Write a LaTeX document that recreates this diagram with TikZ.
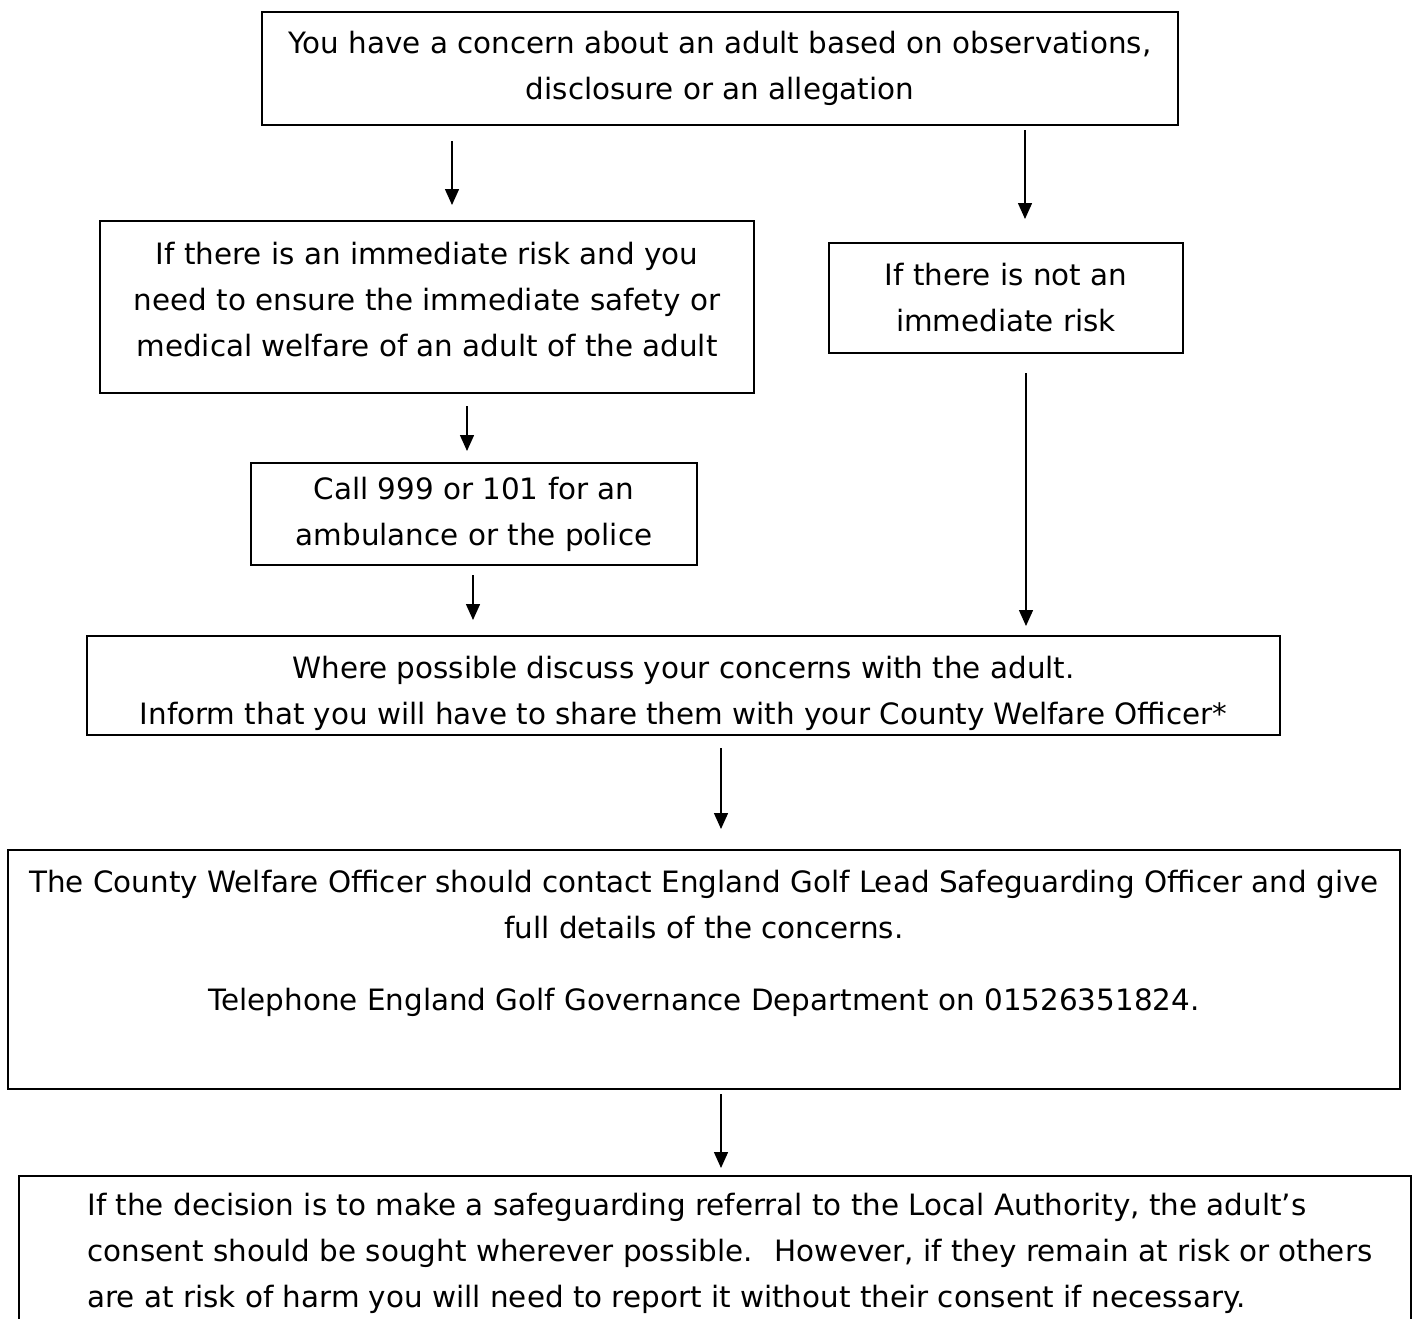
\documentclass[tikz,border=0pt]{standalone}
\usepackage{fontspec}
\setmainfont{DejaVu Sans}
\usetikzlibrary{arrows.meta,positioning}

\begin{document}
\begin{tikzpicture}[x=0.5pt, y=-0.5pt, >={Triangle[length=8pt,width=7pt]},
    every node/.style={font=\fontsize{14.7pt}{23pt}\selectfont},
    box/.style={draw, line width=1pt, inner sep=0pt, align=center},
    arr/.style={->, line width=0.75pt}]
    \useasboundingbox (0,0) rectangle (1413,1318);

    \node [box, minimum width=458pt, minimum height=56.5pt] (concern) at (720,68.5)
        {You have a concern about an adult based on observations,\\ disclosure or an allegation};
    \node [box, minimum width=327pt, minimum height=86pt] (urgent) at (427,307)
        {If there is an immediate risk and you\\ need to ensure the immediate safety or\\ medical welfare of an adult of the adult\rule[-8pt]{0pt}{0pt}};
    \node [box, minimum width=177pt, minimum height=55pt] (noturgent) at (1006,298)
        {If there is not an\\ immediate risk};
    \node [box, minimum width=223pt, minimum height=51pt] (call) at (474,514)
        {Call 999 or 101 for an\\ ambulance or the police};
    \node [box, minimum width=596.5pt, minimum height=49.5pt] (discuss) at (683.5,685.5)
        {\rule{0pt}{19pt}Where possible discuss your concerns with the adult.\\ Inform that you will have to share them with your County Welfare Officer*};
    \node [box, minimum width=696pt, minimum height=119.5pt] (cwo) at (704,969.5)
        {The County Welfare Officer should contact England Golf Lead Safeguarding Officer and give\\ full details of the concerns.\\[13pt] Telephone England Golf Governance Department on 01526351824.\\[6.5pt]\mbox{}};
    % last box runs off the bottom of the page
    \node [box, anchor=north west, minimum width=696pt, minimum height=90pt] (referral) at (18,1175) {};
    \node [anchor=north west, inner sep=0pt, align=left] (referraltext) at (87,1193)
        {If the decision is to make a safeguarding referral to the Local Authority, the adult’s\\ consent should be sought wherever possible.~ However, if they remain at risk or others\\ are at risk of harm you will need to report it without their consent if necessary.};

    \draw [arr, shorten <=7.5pt, shorten >=7.5pt] (concern.south -| 452,0) -- (urgent.north -| 452,0);
    \draw [arr, shorten <=2pt, shorten >=11.5pt] (concern.south -| 1025,0) -- (noturgent.north -| 1025,0);
    \draw [arr, shorten <=6pt, shorten >=5.5pt] (urgent.south -| 467,0) -- (call.north -| 467,0);
    \draw [arr, shorten <=4.5pt, shorten >=7.5pt] (call.south -| 473,0) -- (discuss.north -| 473,0);
    \draw [arr, shorten <=9.5pt, shorten >=4.5pt] (noturgent.south -| 1026,0) -- (discuss.north -| 1026,0);
    \draw [arr, shorten <=6pt, shorten >=10pt] (discuss.south -| 721,0) -- (cwo.north -| 721,0);
    \draw [arr, shorten <=2pt, shorten >=3.5pt] (cwo.south -| 721,0) -- (referral.north -| 721,0);
\end{tikzpicture}
\end{document}
